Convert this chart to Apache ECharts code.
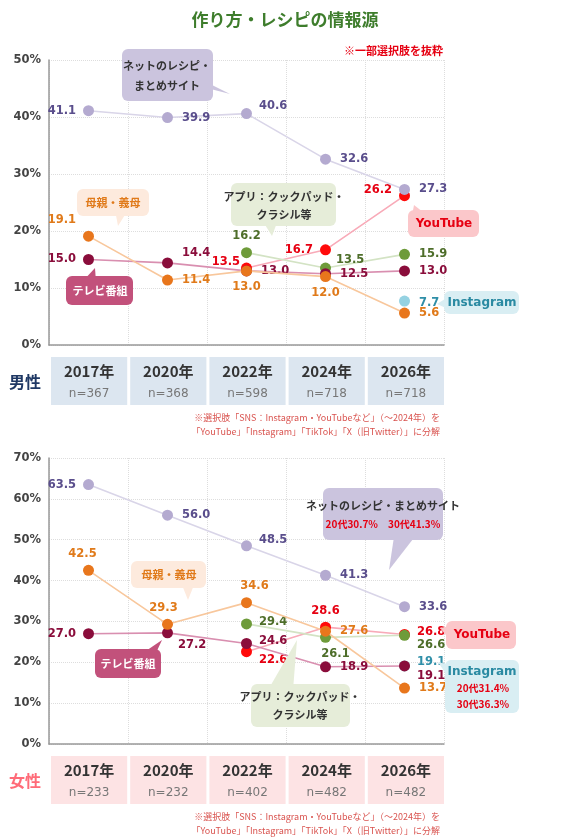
<!DOCTYPE html>
<html><head><meta charset="utf-8">
<script src="https://cdn.jsdelivr.net/npm/echarts@6/dist/echarts.min.js"></script>
<style>html,body{margin:0;padding:0;background:#fff}#c{width:571px;height:840px}</style>
</head><body><div id="c"></div>
<script>
var years = ['2017年','2020年','2022年','2024年','2026年'];
var nMale = ['n=367','n=368','n=598','n=718','n=718'];
var nFemale = ['n=233','n=232','n=402','n=482','n=482'];
var seriesNames = ['ネットのレシピ・まとめサイト','母親・義母','テレビ番組','アプリ：クックパッド・クラシル等','YouTube','Instagram'];
var maleNet = [41.1,39.9,40.6,32.6,27.3];
var maleMother = [19.1,11.4,13.0,12.0,5.6];
var maleTV = [15.0,14.4,13.0,12.5,13.0];
var maleApp = [null,null,16.2,13.5,15.9];
var maleYT = [null,null,13.5,16.7,26.2];
var maleIG = [null,null,null,null,7.7];
var femNet = [63.5,56.0,48.5,41.3,33.6];
var femMother = [42.5,29.3,34.6,27.6,13.7];
var femTV = [27.0,27.2,24.6,18.9,19.1];
var femApp = [null,null,29.4,26.1,26.6];
var femYT = [null,null,22.6,28.6,26.8];
var femIG = [null,null,null,null,19.1];

var styles = [
 {pt:'#b4aad0', ln:'#d9d5e8', tx:'#5a4e8c'},
 {pt:'#e8761c', ln:'#f8c79c', tx:'#e07a1a'},
 {pt:'#8a0d3b', ln:'#d98fb0', tx:'#8a0d3b'},
 {pt:'#6e9b3a', ln:'#d3e3c4', tx:'#4e6e2a'},
 {pt:'#ff0a0a', ln:'#f8aab8', tx:'#e60012'},
 {pt:'#95d2e2', ln:'#c9e9f0', tx:'#2f8fa8'}
];
// label placements [position, dx, dy]
var maleLbl = [
 [['left',-2,0],['right',4,0],['right',2,-8],['right',4,0],['right',4,0]],
 [['left',-2,-16],['right',4,0],['bottom',0,0],['bottom',0,0],['right',4,0]],
 [['left',-2,0],['right',4,-10],['right',4,0],['right',4,0],['right',4,0]],
 [null,null,['top',0,0],['right',0,-8],['right',4,0]],
 [null,null,['left',4,-6],['left',-2,0],['left',-2,-6]],
 [null,null,null,null,['right',4,2]]
];
var femLbl = [
 [['left',-2,0],['right',4,0],['right',2,-6],['right',4,0],['right',4,0]],
 [['top',-6,0],['top',-4,0],['top',8,0],['right',4,0],['right',4,0]],
 [['left',-2,0],['right',0,12],['right',2,-2],['right',4,0],['right',2,10]],
 [null,null,['right',2,-2],['bottom',10,0],['right',2,10]],
 [null,null,['right',2,8],['top',0,0],['right',2,-2]],
 [null,null,null,null,['right',2,-4]]
];

function mk(vals, idx, lbl, gi){
  var s = styles[idx];
  return {
    type:'line', name:seriesNames[idx], xAxisIndex:gi, yAxisIndex:gi,
    symbol:'circle', symbolSize:11, connectNulls:false,
    lineStyle:{color:s.ln,width:1.6}, itemStyle:{color:s.pt},
    z: 10-idx,
    data: vals.map(function(v,i){
      if(v==null) return null;
      var p = lbl[idx][i];
      return {value:v, label:{show:true, position:p[0], offset:[p[1],p[2]],
        formatter:function(o){return o.value.toFixed(1);},
        color:s.tx, fontSize:11.5, fontWeight:'bold', fontFamily:'Verdana, DejaVu Sans'}};
    })
  };
}
var male=[maleNet,maleMother,maleTV,maleApp,maleYT,maleIG];
var fem=[femNet,femMother,femTV,femApp,femYT,femIG];
var series=[];
male.forEach(function(v,i){series.push(mk(v,i,maleLbl,0));});
fem.forEach(function(v,i){series.push(mk(v,i,femLbl,1));});

function xa(gi){return {type:'category',gridIndex:gi,data:years,boundaryGap:true,
  axisLine:{lineStyle:{color:'#999',width:1.5}},axisTick:{show:false},axisLabel:{show:false},
  splitLine:{show:true,lineStyle:{color:'#ddd',type:'dotted'}}};}
function ya(gi,max){return {type:'value',gridIndex:gi,min:0,max:max,interval:10,
  axisLine:{show:true,lineStyle:{color:'#999',width:1.5}},axisTick:{show:false},
  axisLabel:{formatter:'{value}%',color:'#444',fontSize:11.5,fontWeight:'bold',fontFamily:'Verdana, DejaVu Sans',margin:8},
  splitLine:{lineStyle:{color:'#ddd',type:'dotted'}}};}

var G=[];
function callout(x,y,w,h,fill,tail,texts){
  G.push({type:'polygon',shape:{points:tail},style:{fill:fill},z:50});
  G.push({type:'rect',shape:{x:x,y:y,width:w,height:h,r:6},style:{fill:fill},z:50});
  texts.forEach(function(t){
    G.push({type:'text',x:t[0],y:t[1],style:{text:t[2],fill:t[3],font:(t[4]||'bold 11px "Noto Sans CJK JP"'),align:'center',verticalAlign:'middle',lineHeight:t[5]||14},z:51});
  });
}
function table(top,bg,n,label,labelColor){
  var x0=50,w=79.2;
  for(var i=0;i<5;i++){
    G.push({type:'rect',shape:{x:x0+i*w+1,y:top,width:w-3,height:48},style:{fill:bg}});
    G.push({type:'text',x:x0+i*w+w/2-0.5,y:top+14,style:{text:years[i],fill:'#333',font:'bold 15px "Noto Sans CJK JP"',align:'center',verticalAlign:'middle'}});
    G.push({type:'text',x:x0+i*w+w/2-0.5,y:top+37,style:{text:n[i],fill:'#777',font:'12px Verdana, "DejaVu Sans"',align:'center',verticalAlign:'middle'}});
  }
  G.push({type:'text',x:25,y:top+25,style:{text:label,fill:labelColor,font:'bold 16px "Noto Sans CJK JP"',align:'center',verticalAlign:'middle'}});
}
G.push({type:'text',x:285,y:20,style:{text:'作り方・レシピの情報源',fill:'#3e7d2c',font:'bold 17px "Noto Sans CJK JP"',align:'center',verticalAlign:'middle'}});
G.push({type:'text',x:443,y:51,style:{text:'※一部選択肢を抜粋',fill:'#e60012',font:'bold 11px "Noto Sans CJK JP"',align:'right',verticalAlign:'middle'}});
table(357,'#dce6f0',nMale,'男性','#1f3864');
table(756,'#fde3e4',nFemale,'女性','#ff6b78');
function foot(y){
  G.push({type:'text',x:440,y:y,style:{text:'※選択肢「SNS：Instagram・YouTubeなど」（～2024年）を',fill:'#d9534f',font:'9px "Noto Sans CJK JP"',align:'right',verticalAlign:'middle'}});
  G.push({type:'text',x:440,y:y+14,style:{text:'「YouTube」「Instagram」「TikTok」「X（旧Twitter）」に分解',fill:'#d9534f',font:'9px "Noto Sans CJK JP"',align:'right',verticalAlign:'middle'}});
}
foot(418); foot(817);
// male callouts
callout(122,49,91,52,'#cbc4de',[[195,85],[212,85],[230,94]],[[167,66,'ネットのレシピ・','#333'],[167,86,'まとめサイト','#333']]);
callout(77,189,72,27,'#fdeadd',[[115,210],[128,210],[118,226]],[[113,203,'母親・義母','#e07a1a']]);
callout(231,183,105,43,'#e6edd9',[[262,220],[278,220],[272,236]],[[284,197,'アプリ：クックパッド・','#333'],[284,215,'クラシル等','#333']]);
callout(66,276,67,29,'#c2517b',[[82,282],[96,282],[95,268]],[[100,291,'テレビ番組','#fff']]);
callout(408,210,71,27,'#fbc7ca',[[412,216],[428,216],[414,205]],[[444,224,'YouTube','#e60012','bold 12px Verdana, "DejaVu Sans"']]);
callout(444,291,75,23,'#d9eef3',[[448,297],[448,309],[437,304]],[[482,303,'Instagram','#2a8aa2','bold 12px Verdana, "DejaVu Sans"']]);
// female callouts
callout(323,488,120,52,'#cbc4de',[[395,530],[420,530],[389,570]],[[383,506,'ネットのレシピ・まとめサイト','#333'],[383,524,'20代30.7%　30代41.3%','#e60012','bold 10px "Noto Sans CJK JP"']]);
callout(131,561,75,27,'#fdeadd',[[180,580],[196,580],[188,600]],[[169,575,'母親・義母','#e07a1a']]);
callout(95,649,66,29,'#c2517b',[[140,655],[155,655],[162,640]],[[128,664,'テレビ番組','#fff']]);
callout(251,684,99,43,'#e6edd9',[[268,690],[293,690],[297,640]],[[300,697,'アプリ：クックパッド・','#333'],[300,715,'クラシル等','#333']]);
callout(446,621,70,28,'#fbc7ca',[[450,626],[450,640],[440,628]],[[482,635,'YouTube','#e60012','bold 12px Verdana, "DejaVu Sans"']]);
callout(445,660,74,53,'#d9eef3',[[450,665],[450,680],[438,662]],[[482,672,'Instagram','#2a8aa2','bold 12px Verdana, "DejaVu Sans"'],[483,688,'20代31.4%','#e60012','bold 10px "Noto Sans CJK JP"'],[483,704,'30代36.3%','#e60012','bold 10px "Noto Sans CJK JP"']]);

var chart=echarts.init(document.getElementById('c'),null,{renderer:'canvas'});
chart.setOption({
  animation:false,
  grid:[{left:49,right:127,top:60,height:285},{left:49,right:127,top:458,height:286}],
  xAxis:[xa(0),xa(1)], yAxis:[ya(0,50),ya(1,70)],
  series:series, graphic:G
});
</script></body></html>
